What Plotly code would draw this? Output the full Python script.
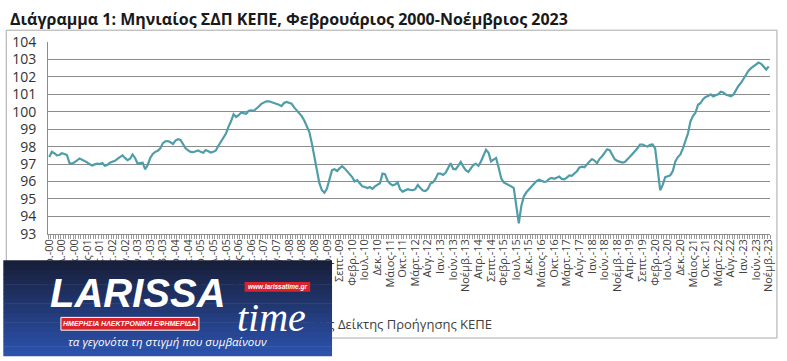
import plotly.graph_objects as go

# ---------------- data ----------------
start_year, start_month = 2000, 2
month_abbr = ["Ιαν.", "Φεβρ.", "Μάρτ.", "Απρ.", "Μάιος", "Ιούν.",
              "Ιουλ.", "Αύγ.", "Σεπτ.", "Οκτ.", "Νοέμβ.", "Δεκ."]

values_2000 = [97.40, 97.70, 97.62, 97.50, 97.52, 97.62, 97.58, 97.52, 97.05, 97.02, 97.10]
values_2001 = [97.22, 97.32, 97.25, 97.18, 97.10, 96.98, 96.92, 96.98, 97.02, 97.00, 97.06, 96.90]
values_2002 = [96.95, 97.08, 97.12, 97.18, 97.30, 97.42, 97.50, 97.35, 97.22, 97.30, 97.55, 97.35]
values_2003 = [97.02, 97.05, 97.08, 96.70, 96.95, 97.35, 97.58, 97.70, 97.76, 97.90, 98.20, 98.30]
values_2004 = [98.32, 98.25, 98.15, 98.35, 98.42, 98.38, 98.10, 97.90, 97.78, 97.70, 97.68, 97.74]
values_2005 = [97.78, 97.70, 97.65, 97.80, 97.72, 97.66, 97.70, 97.78, 98.05, 98.30, 98.50, 98.75]
values_2006 = [99.15, 99.45, 99.85, 99.70, 99.80, 99.95, 99.92, 99.88, 100.05, 100.08, 100.05, 100.15]
values_2007 = [100.30, 100.45, 100.55, 100.60, 100.60, 100.56, 100.52, 100.47, 100.40, 100.32, 100.50, 100.56]
values_2008 = [100.52, 100.46, 100.25, 100.10, 99.95, 99.75, 99.50, 99.20, 98.85, 98.20, 97.40, 96.60]
values_2009 = [95.90, 95.50, 95.35, 95.60, 96.10, 96.65, 96.70, 96.60, 96.75, 96.88, 96.75, 96.60]
values_2010 = [96.45, 96.25, 96.00, 96.08, 95.90, 95.72, 95.68, 95.62, 95.68, 95.58, 95.72, 95.82]
values_2011 = [95.90, 96.45, 96.42, 96.05, 95.88, 95.78, 95.82, 95.95, 95.55, 95.42, 95.50, 95.56]
values_2012 = [95.52, 95.50, 95.56, 95.80, 95.62, 95.48, 95.45, 95.58, 95.88, 95.95, 96.15, 96.45]
values_2013 = [96.45, 96.38, 96.50, 96.80, 97.05, 96.72, 96.70, 96.90, 97.12, 96.85, 96.65, 96.55]
values_2014 = [96.72, 96.95, 97.02, 96.90, 97.15, 97.50, 97.82, 97.65, 97.15, 97.25, 97.35, 96.80]
values_2015 = [96.20, 95.95, 95.88, 95.78, 95.72, 95.62, 94.60, 93.60, 94.60, 95.15, 95.38, 95.55]
values_2016 = [95.72, 95.90, 96.02, 96.10, 96.05, 95.98, 96.00, 96.15, 96.20, 96.15, 96.22, 96.28]
values_2017 = [96.15, 96.12, 96.22, 96.35, 96.32, 96.45, 96.58, 96.80, 96.85, 96.82, 97.00, 97.15]
values_2018 = [97.28, 97.20, 97.05, 97.30, 97.45, 97.62, 97.85, 97.80, 97.50, 97.28, 97.18, 97.12]
values_2019 = [97.08, 97.12, 97.25, 97.42, 97.58, 97.72, 97.90, 98.12, 98.12, 98.05, 98.00, 98.10]
values_2020 = [98.12, 97.90, 96.80, 95.50, 95.80, 96.25, 96.30, 96.35, 96.60, 97.15, 97.40, 97.55]
values_2021 = [97.90, 98.30, 98.75, 99.45, 99.75, 99.95, 100.40, 100.50, 100.72, 100.85, 100.90, 101.00]
values_2022 = [100.88, 100.95, 101.00, 101.15, 101.10, 100.98, 100.92, 100.88, 100.98, 101.25, 101.48, 101.65]
values_2023 = [101.90, 102.15, 102.35, 102.50, 102.60, 102.68, 102.82, 102.75, 102.55, 102.42, 102.60]

y_ticks = list(range(93, 105))
series_name = "Σύνθετος Δείκτης Προήγησης ΚΕΠΕ"
title_text = "Διάγραμμα 1: Μηνιαίος ΣΔΠ ΚΕΠΕ, Φεβρουάριος 2000-Νοέμβριος 2023"
label_step = 5

series = (values_2000 + values_2001 + values_2002 + values_2003 + values_2004 +
          values_2005 + values_2006 + values_2007 + values_2008 + values_2009 +
          values_2010 + values_2011 + values_2012 + values_2013 + values_2014 +
          values_2015 + values_2016 + values_2017 + values_2018 + values_2019 +
          values_2020 + values_2021 + values_2022 + values_2023)
n = len(series)

categories = []
for k in range(n):
    m0 = start_month - 1 + k
    yr = start_year + m0 // 12
    categories.append(f"{month_abbr[m0 % 12]}-{yr % 100:02d}")
tick_idx = list(range(0, n, label_step))
tick_labels = [categories[i] for i in tick_idx]
xs = list(range(n))

# ---------------- geometry helpers ----------------
W, H = 787, 361
ML, MR, MT, MB = 45, 15, 42, 16
PW, PH = W - ML - MR, H - MT - MB
PLOT_BOTTOM_PX = 237          # pixel row of the main plot's bottom edge
LEG_DOMAIN = [0.0, 0.3]       # lower helper area that carries the legend text
main_domain_bottom = (H - MB - PLOT_BOTTOM_PX) / PH
XR = [-0.5, n - 0.5]
YR = [93, 104]

def pxx(x):
    return (x - ML) / PW

def pxy(y):
    return (H - MB - y) / PH

def leg_y(py):
    return (pxy(py) - LEG_DOMAIN[0]) / (LEG_DOMAIN[1] - LEG_DOMAIN[0])

FONT = "Open Sans, Noto Sans, sans-serif"

fig = go.Figure()
fig.add_trace(go.Scatter(
    x=xs, y=series, mode="lines", name=series_name,
    line=dict(color="#4E9DA9", width=2.2), showlegend=False,
    customdata=categories, hovertemplate="%{customdata}: %{y}<extra></extra>"))

# legend (partly hidden under the overlay logo) on a helper subplot
fig.add_trace(go.Scatter(
    x=[pxx(492)], y=[leg_y(331)], xaxis="x2", yaxis="y2",
    mode="text", text=[series_name],
    textposition="middle left", textfont=dict(family=FONT, size=13, color="#404040"),
    cliponaxis=False, showlegend=False, hoverinfo="skip"))

shapes = [dict(type="rect", xref="paper", yref="paper",
               x0=pxx(3), x1=pxx(779), y0=pxy(343), y1=pxy(30),
               line=dict(color="#a9a9a9", width=1), layer="below")]

# logo box gradient
top_c = (24, 31, 58)
bot_c = (44, 82, 172)
box_top, box_bot = 264, 361
nstr = 20
for s in range(nstr):
    t = s / (nstr - 1)
    c = tuple(int(top_c[j] + (bot_c[j] - top_c[j]) * t) for j in range(3))
    y0 = box_top + (box_bot - box_top) * s / nstr
    y1 = box_top + (box_bot - box_top) * (s + 1) / nstr
    shapes.append(dict(type="rect", xref="paper", yref="paper",
                       x0=pxx(0), x1=pxx(331), y0=pxy(y1 + 0.5), y1=pxy(y0),
                       line=dict(width=0), fillcolor=f"rgb{c}", layer="above"))
# red banners
shapes.append(dict(type="rect", xref="paper", yref="paper",
                   x0=pxx(58), x1=pxx(197), y0=pxy(335), y1=pxy(322),
                   line=dict(color="white", width=1), fillcolor="#d8232a", layer="above"))
shapes.append(dict(type="rect", xref="paper", yref="paper",
                   x0=pxx(243), x1=pxx(309), y0=pxy(296), y1=pxy(286),
                   line=dict(width=0), fillcolor="#d8232a", layer="above"))

annotations = [
    dict(text=f"<b>{title_text}</b>", xref="paper", yref="paper", x=pxx(5), y=pxy(19),
         showarrow=False, xanchor="left", yanchor="middle",
         font=dict(family=FONT, size=16, color="#1a1a1a")),
    dict(text="<b><i>LARISSA</i></b>", xref="paper", yref="paper", x=pxx(136), y=pxy(297),
         showarrow=False, xanchor="center", yanchor="middle",
         font=dict(family="Liberation Sans, Arial", size=40, color="white")),
    dict(text="<i>time</i>", xref="paper", yref="paper", x=pxx(270), y=pxy(322),
         showarrow=False, xanchor="center", yanchor="middle",
         font=dict(family="Liberation Serif, Times New Roman", size=40, color="white")),
    dict(text="<b><i>www.larissatime.gr</i></b>", xref="paper", yref="paper", x=pxx(276), y=pxy(291),
         showarrow=False, xanchor="center", yanchor="middle",
         font=dict(family="Liberation Sans, Arial", size=6.5, color="white")),
    dict(text="<b><i>ΗΜΕΡΗΣΙΑ ΗΛΕΚΤΡΟΝΙΚΗ ΕΦΗΜΕΡΙΔΑ</i></b>", xref="paper", yref="paper",
         x=pxx(127.5), y=pxy(328.5), showarrow=False, xanchor="center", yanchor="middle",
         font=dict(family="Liberation Sans, Arial", size=7, color="white")),
    dict(text="<i>τα γεγονότα τη στιγμή που συμβαίνουν</i>", xref="paper", yref="paper",
         x=pxx(165), y=pxy(347), showarrow=False, xanchor="center", yanchor="middle",
         font=dict(family=FONT, size=11.5, color="white")),
]

fig.update_layout(
    width=W, height=H, autosize=False,
    margin=dict(l=ML, r=MR, t=MT, b=MB, pad=0),
    paper_bgcolor="white", plot_bgcolor="white",
    xaxis=dict(range=XR, tickmode="array", tickvals=tick_idx, ticktext=tick_labels,
               tickangle=-90, tickfont=dict(family=FONT, size=11, color="#404040"),
               showgrid=False, zeroline=False, showline=True, linecolor="#8c8c8c",
               linewidth=1, ticks="", anchor="y",
               minor=dict(ticks="outside", tick0=-0.5, dtick=1, ticklen=4,
                          tickcolor="#9a9a9a", tickwidth=1, showgrid=False)),
    yaxis=dict(range=YR, tickmode="array", tickvals=y_ticks, domain=[main_domain_bottom, 1],
               tickfont=dict(family=FONT, size=14, color="#333333"),
               showgrid=True, gridcolor="#8c8c8c", gridwidth=1, zeroline=False,
               showline=True, linecolor="#8c8c8c", linewidth=1, ticks="",
               ticklabelstandoff=8, anchor="x"),
    xaxis2=dict(domain=[0, 1], range=[0, 1], visible=False, anchor="y2", fixedrange=True),
    yaxis2=dict(domain=LEG_DOMAIN, range=[0, 1], visible=False, anchor="x2", fixedrange=True),
    shapes=shapes, annotations=annotations, showlegend=False,
)

fig.write_html("out.html")
